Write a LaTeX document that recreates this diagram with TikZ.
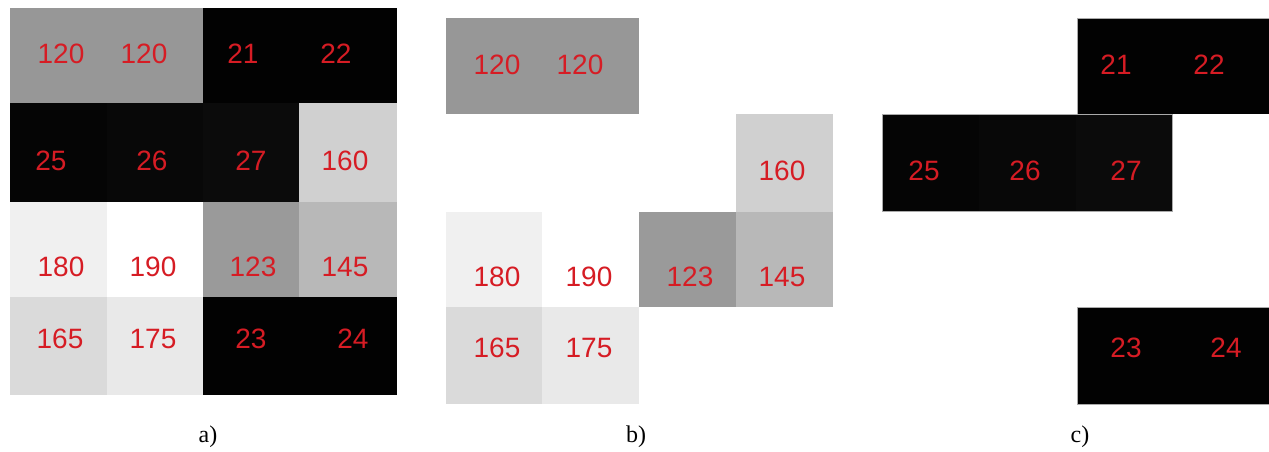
\documentclass[tikz,border=0pt]{standalone}
\usepackage{fontspec}
\setmainfont{Liberation Serif}
\newfontfamily\digitfont{Liberation Sans}
\definecolor{numred}{RGB}{214,28,36}
\definecolor{gA}{RGB}{151,151,151}
\definecolor{gB}{RGB}{208,208,208}
\definecolor{gC}{RGB}{240,240,240}
\definecolor{gD}{RGB}{154,154,154}
\definecolor{gE}{RGB}{184,184,184}
\definecolor{gF}{RGB}{218,218,218}
\definecolor{gG}{RGB}{233,233,233}
\definecolor{k1}{RGB}{2,2,2}
\definecolor{k5}{RGB}{5,5,5}
\definecolor{k8}{RGB}{8,8,8}
\definecolor{k11}{RGB}{11,11,11}
\definecolor{edge}{RGB}{170,170,170}
\tikzset{
  num/.style={text=numred, font=\digitfont\fontsize{28}{28}\selectfont, inner sep=0pt, anchor=center},
  caption/.style={font=\fontsize{24}{24}\selectfont, inner sep=0pt, anchor=center},
  grp/.style={draw=edge, line width=0.5pt}
}
\begin{document}
\begin{tikzpicture}[x=1pt,y=-1pt]
\useasboundingbox[fill=white] (0,0) rectangle (1269,452);
% ---------- panel a ----------
\fill[gA] (10,8) rectangle (203,103);
\fill[k1] (203,8) rectangle (397,103);
\fill[k5] (10,103) rectangle (107,202);
\fill[k8] (107,103) rectangle (203,202);
\fill[k11] (203,103) rectangle (299,202);
\fill[gB] (299,103) rectangle (397,202);
\fill[gC] (10,202) rectangle (107,297);
\fill[gD] (203,202) rectangle (299,297);
\fill[gE] (299,202) rectangle (397,297);
\fill[gF] (10,297) rectangle (107,395);
\fill[gG] (107,297) rectangle (203,395);
\fill[k1] (203,297) rectangle (397,395);
\node[num] (a11) at (61,54) {120};
\node[num] (a12) at (144,54) {120};
\node[num] (a13) at (243,54) {21};
\node[num] (a14) at (336,54) {22};
\node[num] (a21) at (51,161) {25};
\node[num] (a22) at (152,161) {26};
\node[num] (a23) at (251,161) {27};
\node[num] (a24) at (345,161) {160};
\node[num] (a31) at (61,267) {180};
\node[num] (a32) at (153,267) {190};
\node[num] (a33) at (253,267) {123};
\node[num] (a34) at (345,267) {145};
\node[num] (a41) at (60,339) {165};
\node[num] (a42) at (153,339) {175};
\node[num] (a43) at (251,339) {23};
\node[num] (a44) at (353,339) {24};
\node[caption] (capa) at (208,437) {a)};
% ---------- panel b ----------
\fill[gA] (446,18) rectangle (639,114);
\fill[gB] (736,114) rectangle (833,212);
\fill[gC] (446,212) rectangle (542,307);
\fill[gD] (639,212) rectangle (736,307);
\fill[gE] (736,212) rectangle (833,307);
\fill[gF] (446,307) rectangle (542,404);
\fill[gG] (542,307) rectangle (639,404);
\node[num] (b11) at (497,65) {120};
\node[num] (b12) at (580,65) {120};
\node[num] (b24) at (782,171) {160};
\node[num] (b31) at (497,277) {180};
\node[num] (b32) at (589,277) {190};
\node[num] (b33) at (690,277) {123};
\node[num] (b34) at (782,277) {145};
\node[num] (b41) at (497,348) {165};
\node[num] (b42) at (589,348) {175};
\node[caption] (capb) at (636,437) {b)};
% ---------- panel c ----------
\fill[k1] (1077,18) rectangle (1269,114);
\fill[k5] (882,114) rectangle (979,211);
\fill[k8] (979,114) rectangle (1076,211);
\fill[k11] (1076,114) rectangle (1172,211);
\fill[k1] (1077,307) rectangle (1269,404);
\draw[grp] (1269,18) -- (1077,18) -- (1077,114);
\draw[grp] (882,114) rectangle (1172,211);
\draw[grp] (1269,307) -- (1077,307) -- (1077,404) -- (1269,404);
\node[num] (c13) at (1116,65) {21};
\node[num] (c14) at (1209,65) {22};
\node[num] (c21) at (924,171) {25};
\node[num] (c22) at (1025,171) {26};
\node[num] (c23) at (1126,171) {27};
\node[num] (c43) at (1126,348) {23};
\node[num] (c44) at (1226,348) {24};
\node[caption] (capc) at (1080,437) {c)};
\end{tikzpicture}
\end{document}
